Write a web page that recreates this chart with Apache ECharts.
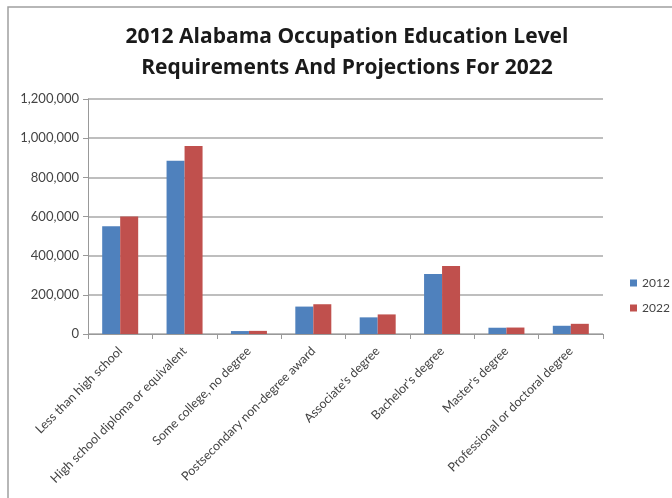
<!DOCTYPE html>
<html><head><meta charset="utf-8">
<script src="https://cdn.jsdelivr.net/npm/echarts@6/dist/echarts.min.js"></script>
<style>html,body{margin:0;padding:0;background:#fff}#c{width:672px;height:498px}</style>
</head><body><div id="c"></div>
<script>
const categories = ["Less than high school","High school diploma or equivalent","Some college, no degree","Postsecondary non-degree award","Associate's degree","Bachelor's degree","Master's degree","Professional or doctoral degree"];
const values2012 = [550000, 885000, 15000, 140000, 85000, 306000, 32000, 42000];
const values2022 = [600000, 960000, 16000, 152000, 100000, 347000, 33000, 52000];
const seriesNames = ["2012", "2022"];
const chart = echarts.init(document.getElementById('c'));
chart.setOption({
  animation: false,
  title: {
    text: "2012 Alabama Occupation Education Level\nRequirements And Projections For 2022",
    left: 342, top: 17, textAlign: 'center',
    textStyle: {fontFamily: 'Open Sans', fontWeight: 'bold', fontSize: 21, color: '#1a1a1a', lineHeight: 31}
  },
  graphic: [{type: 'rect', shape: {x: 8, y: 7, width: 700, height: 520}, style: {fill: 'none', stroke: '#a0a0a0', lineWidth: 1.5}, silent: true}],
  legend: {
    orient: 'vertical', left: 625, top: 272, itemWidth: 7, itemHeight: 7, itemGap: 13,
    icon: 'rect', textStyle: {fontFamily: 'Lato', fontSize: 12, color: '#444'}, data: seriesNames
  },
  grid: {left: 88, right: 69, top: 99, bottom: 164, containLabel: false},
  xAxis: {
    type: 'category', data: categories,
    axisLine: {lineStyle: {color: '#999'}},
    axisTick: {show: true, lineStyle: {color: '#999'}},
    axisLabel: {rotate: 45, interval: 0, fontFamily: 'Lato', fontSize: 12.5, color: '#444', margin: 15}
  },
  yAxis: {
    type: 'value', min: 0, max: 1200000, interval: 200000,
    axisLine: {show: true, lineStyle: {color: '#999'}},
    axisTick: {show: true, lineStyle: {color: '#999'}},
    splitLine: {lineStyle: {color: '#a8a8a8', width: 1.5}},
    axisLabel: {fontFamily: 'Lato', fontSize: 13, color: '#444', margin: 9,
      formatter: v => v.toLocaleString('en-US')}
  },
  series: [
    {name: seriesNames[0], type: 'bar', data: values2012, barWidth: 18, barGap: '0%', itemStyle: {color: '#4f81bd'}},
    {name: seriesNames[1], type: 'bar', data: values2022, barWidth: 18, itemStyle: {color: '#c0504d'}}
  ]
});
</script></body></html>
